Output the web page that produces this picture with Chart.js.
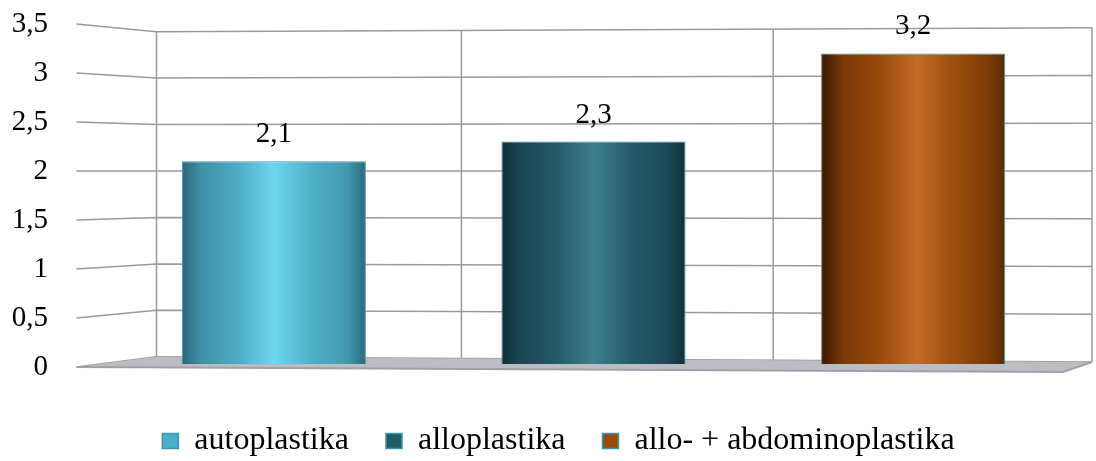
<!DOCTYPE html>
<html>
<head>
<meta charset="utf-8">
<script src="https://cdn.jsdelivr.net/npm/chart.js@4.4.1/dist/chart.umd.min.js"></script>
<style>
  html, body { margin: 0; padding: 0; background: #fff; }
  #wrap { width: 1096px; height: 461px; position: relative; }
</style>
</head>
<body>
<div id="wrap"><canvas id="chart"></canvas></div>
<script>
// data
const labels = ['autoplastika', 'alloplastika', 'allo- + abdominoplastika'];
const values = [2.1, 2.3, 3.2];
const yMin = 0;
const yMax = 3.5;
const yStep = 0.5;

// look
const FONT = '"Liberation Serif", "Times New Roman", serif';
const CATEGORY_PCT = 0.576;
const OUTLINE = '#3F95AB';
const legendFill = ['#4BAFC9', '#215A68', '#9B4A0C'];
const SHADES = [
  [[0, '#2B6677'], [0.1, '#3F8FA7'], [0.3, '#4EAAC4'], [0.5, '#6DD6F0'], [0.7, '#50AFC9'], [0.9, '#4398B0'], [1, '#2C6778']],
  [[0, '#112E37'], [0.1, '#1B4552'], [0.3, '#245A68'], [0.5, '#3E7F8D'], [0.7, '#255C6A'], [0.9, '#1C4956'], [1, '#132F38']],
  [[0, '#3A1703'], [0.12, '#7A3A07'], [0.3, '#95470A'], [0.52, '#C36A28'], [0.7, '#A0500E'], [0.9, '#7E3B06'], [1, '#5A2A04']]
];

const fmt = v => String(v).replace('.', ',');

// horizontal gradient across each bar so it reads as a cylinder
function cylinderFill(context) {
  const chart = context.chart;
  const i = context.dataIndex;
  const area = chart.chartArea;
  if (!area) return legendFill[i];
  const cx = chart.scales.x.getPixelForValue(i);
  const half = (area.width / labels.length) * CATEGORY_PCT / 2;
  const g = chart.ctx.createLinearGradient(cx - half, 0, cx + half, 0);
  SHADES[i].forEach(([o, c]) => g.addColorStop(o, c));
  return g;
}

// 3D box: back wall grid, side grid lines and floor
const wall3d = {
  id: 'wall3d',
  afterLayout(chart) {
    // nudge the legend row down and to the right
    const lg = chart.legend;
    lg.left += 22; lg.right += 22;
    lg.top += 6; lg.bottom += 6;
  },
  beforeDatasetsDraw(chart) {
    const { ctx, chartArea: a, scales: { y } } = chart;
    const pivot = y.getPixelForValue(2);
    const backL = v => pivot + (y.getPixelForValue(v) - pivot) * 0.948;
    const backR = v => pivot + (y.getPixelForValue(v) - pivot) * 0.975;
    const xFrontL = a.left - 37.5;
    const xBackL = a.left + 42.5;
    const xBackR = a.right + 19;
    const xFrontR = a.right - 10;
    const lerpY = (x, v) => backL(v) + (backR(v) - backL(v)) * (x - xBackL) / (xBackR - xBackL);

    ctx.save();
    ctx.strokeStyle = '#999';
    ctx.lineWidth = 1.5;
    for (let v = yMin; v <= yMax + 1e-9; v += yStep) {
      ctx.beginPath();
      ctx.moveTo(xFrontL, y.getPixelForValue(v));
      ctx.lineTo(xBackL, backL(v));
      ctx.lineTo(xBackR, backR(v));
      ctx.stroke();
    }
    // back wall dividers between categories (slight perspective squeeze)
    const n = labels.length;
    const r = 1.034;
    for (let k = 0; k <= n; k++) {
      const t = k / n;
      const tp = t / (t + r * (1 - t));
      const xb = xBackL + tp * (xBackR - xBackL);
      ctx.beginPath();
      ctx.moveTo(xb, lerpY(xb, yMax));
      ctx.lineTo(xb, lerpY(xb, yMin));
      ctx.stroke();
    }
    // floor
    const y0 = y.getPixelForValue(0);
    ctx.beginPath();
    ctx.moveTo(xFrontL, y0);
    ctx.lineTo(xBackL, backL(0));
    ctx.lineTo(xBackR, backR(0));
    ctx.lineTo(xFrontR, y0 + 5);
    ctx.closePath();
    ctx.fillStyle = '#BABEC2';
    ctx.fill();
    ctx.beginPath();
    ctx.moveTo(xFrontL, y0);
    ctx.lineTo(xFrontR, y0 + 5);
    ctx.lineTo(xBackR, backR(0));
    ctx.strokeStyle = '#9DA1A5';
    ctx.lineWidth = 2;
    ctx.stroke();
    ctx.restore();
  },
  afterDatasetsDraw(chart) {
    const { ctx } = chart;
    const meta = chart.getDatasetMeta(0);
    ctx.save();
    ctx.font = '29px ' + FONT;
    ctx.fillStyle = '#000';
    ctx.textAlign = 'center';
    ctx.textBaseline = 'alphabetic';
    meta.data.forEach((bar, i) => {
      ctx.fillText(fmt(values[i]), bar.x, bar.y - 19);
    });
    ctx.restore();
  }
};

new Chart(document.getElementById('chart'), {
  type: 'bar',
  data: {
    labels,
    datasets: [{
      data: values,
      base: 0.03,
      backgroundColor: cylinderFill,
      borderColor: OUTLINE,
      borderWidth: 1,
      barPercentage: 1,
      categoryPercentage: CATEGORY_PCT
    }]
  },
  options: {
    responsive: true,
    maintainAspectRatio: false,
    animation: false,
    layout: { padding: { top: 24, right: 23, left: 0, bottom: 0 } },
    plugins: {
      tooltip: { enabled: false },
      legend: {
        position: 'bottom',
        labels: {
          font: { family: FONT, size: 32 },
          color: '#000',
          boxWidth: 16,
          boxHeight: 15,
          padding: 37,
          generateLabels: chart => chart.data.labels.map((text, i) => ({
            text,
            fillStyle: legendFill[i],
            strokeStyle: OUTLINE,
            lineWidth: 1.5,
            hidden: false,
            index: i,
            datasetIndex: 0
          }))
        }
      }
    },
    scales: {
      x: {
        grid: { display: false },
        border: { display: false },
        ticks: { display: false },
        afterFit: s => { s.height = 15; }
      },
      y: {
        min: yMin,
        max: yMax,
        grid: { display: false, drawTicks: false },
        border: { display: false },
        ticks: {
          stepSize: yStep,
          padding: 66,
          color: '#000',
          font: { family: FONT, size: 29 },
          callback: v => fmt(v)
        },
        afterFit: s => {
          s.width = 114;
          s.paddingTop = 0;
          s.paddingBottom = 0;
        }
      }
    }
  },
  plugins: [wall3d]
});
</script>
</body>
</html>
